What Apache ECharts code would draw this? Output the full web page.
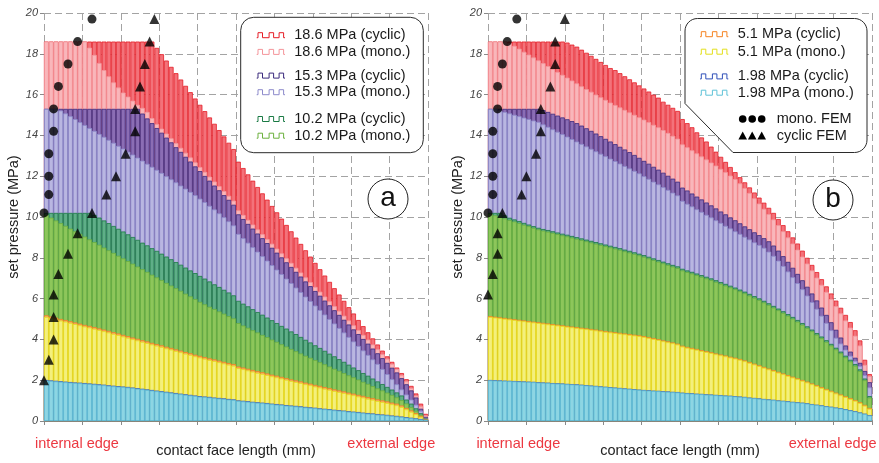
<!DOCTYPE html>
<html>
<head>
<meta charset="utf-8">
<script src="https://cdn.jsdelivr.net/npm/echarts@6/dist/echarts.min.js"></script>
<style>
html, body { margin: 0; padding: 0; background: #fff; }
#chart { width: 879px; height: 463px; }
</style>
</head>
<body>
<div id="chart"></div>
<script>
// bar positions along the contact face (mm), 80 slices of 0.125 mm
var BAR_POS = [];
for (var k = 0; k < 80; k++) BAR_POS.push(((k + 0.5) * 0.125).toFixed(4));

var Y_TICKS = [0, 2, 4, 6, 8, 10, 12, 14, 16, 18, 20];

// ---- panel a ----
var A_RED_CYC = [
  18.6, 18.6, 18.6, 18.6, 18.6, 18.6, 18.6, 18.6, 18.6, 18.6,
  18.6, 18.6, 18.6, 18.6, 18.6, 18.6, 18.6, 18.6, 18.6, 18.6,
  18.6, 18.6, 18.6, 18.29, 17.98, 17.67, 17.36, 17.05, 16.74, 16.43,
  16.12, 15.81, 15.5, 15.19, 14.88, 14.57, 14.26, 13.95, 13.64, 13.33,
  12.71, 12.4, 12.09, 11.78, 11.47, 11.16, 10.85, 10.54, 10.23, 9.92,
  9.61, 9.3, 8.99, 8.68, 8.37, 8.06, 7.75, 7.44, 7.13, 6.82,
  6.51, 6.2, 5.89, 5.58, 5.27, 4.95, 4.65, 4.35, 4.05, 3.75,
  3.45, 3.17, 2.9, 2.62, 2.35, 2.05, 1.72, 1.35, 0.85, 0.35];
var A_PINK_MONO = [
  18.6, 18.6, 18.6, 18.6, 18.6, 18.6, 18.6, 18.6, 18.6, 18.3,
  17.95, 17.55, 17.2, 16.9, 16.6, 16.35, 16.1, 15.9, 15.7, 15.5,
  15.35, 15.15, 14.85, 14.56, 14.33, 14.09, 13.86, 13.62, 13.39, 13.15,
  12.92, 12.68, 12.45, 12.21, 11.98, 11.74, 11.51, 11.27, 11.04, 10.8,
  10.33, 10.1, 9.86, 9.63, 9.39, 9.16, 8.92, 8.69, 8.45, 8.22,
  7.98, 7.75, 7.51, 7.28, 7.04, 6.81, 6.57, 6.34, 6.1, 5.87,
  5.63, 5.4, 5.16, 4.93, 4.69, 4.46, 4.22, 3.99, 3.75, 3.52,
  3.28, 3.05, 2.8, 2.55, 2.25, 1.95, 1.62, 1.25, 0.72, 0.28];
var A_PURPLE_CYC = [
  15.3, 15.3, 15.3, 15.3, 15.3, 15.3, 15.3, 15.3, 15.3, 15.3,
  15.3, 15.3, 15.3, 15.3, 15.3, 15.3, 15.3, 15.3, 15.3, 15.3,
  15.07, 14.83, 14.6, 14.36, 14.13, 13.89, 13.66, 13.42, 13.19, 12.95,
  12.72, 12.48, 12.25, 12.01, 11.78, 11.54, 11.31, 11.07, 10.84, 10.6,
  10.13, 9.9, 9.66, 9.43, 9.19, 8.96, 8.72, 8.49, 8.25, 8.02,
  7.78, 7.55, 7.31, 7.08, 6.84, 6.61, 6.37, 6.14, 5.9, 5.67,
  5.43, 5.2, 4.96, 4.73, 4.49, 4.26, 4.02, 3.79, 3.55, 3.32,
  3.08, 2.85, 2.61, 2.38, 2.1, 1.8, 1.5, 1.15, 0.6, 0.2];
var A_LPURPLE_MONO = [
  15.3, 15.3, 15.3, 15.22, 15.08, 14.94, 14.8, 14.65, 14.51, 14.36,
  14.22, 14.07, 13.93, 13.78, 13.64, 13.49, 13.35, 13.2, 13.06, 12.91,
  12.76, 12.61, 12.46, 12.31, 12.16, 12.0, 11.85, 11.7, 11.54, 11.39,
  11.23, 11.07, 10.9, 10.73, 10.55, 10.37, 10.18, 9.99, 9.79, 9.59,
  9.17, 8.96, 8.74, 8.52, 8.3, 8.08, 7.86, 7.64, 7.42, 7.2,
  6.98, 6.76, 6.54, 6.32, 6.1, 5.88, 5.66, 5.44, 5.22, 5.0,
  4.78, 4.56, 4.34, 4.12, 3.9, 3.68, 3.46, 3.24, 3.02, 2.8,
  2.55, 2.3, 2.05, 1.8, 1.55, 1.3, 1.05, 0.8, 0.5, 0.15];
var A_DGREEN_CYC = [
  10.2, 10.2, 10.2, 10.2, 10.2, 10.2, 10.2, 10.2, 10.2, 10.2,
  10.1, 9.97, 9.83, 9.7, 9.56, 9.42, 9.29, 9.15, 9.02, 8.88,
  8.74, 8.61, 8.47, 8.34, 8.2, 8.06, 7.93, 7.79, 7.66, 7.52,
  7.38, 7.25, 7.11, 6.98, 6.84, 6.7, 6.57, 6.43, 6.3, 6.16,
  5.89, 5.75, 5.62, 5.48, 5.34, 5.21, 5.07, 4.94, 4.8, 4.66,
  4.53, 4.39, 4.26, 4.12, 3.98, 3.85, 3.71, 3.58, 3.44, 3.3,
  3.17, 3.03, 2.9, 2.76, 2.62, 2.49, 2.35, 2.22, 2.08, 1.94,
  1.81, 1.67, 1.54, 1.4, 1.25, 1.05, 0.85, 0.62, 0.38, 0.12];
var A_LGREEN_MONO = [
  10.1, 9.97, 9.83, 9.7, 9.57, 9.43, 9.3, 9.17, 9.04, 8.9,
  8.77, 8.64, 8.5, 8.37, 8.24, 8.1, 7.97, 7.84, 7.71, 7.57,
  7.44, 7.31, 7.17, 7.04, 6.91, 6.77, 6.64, 6.51, 6.38, 6.24,
  6.11, 5.98, 5.84, 5.72, 5.6, 5.49, 5.37, 5.26, 5.14, 5.03,
  4.8, 4.68, 4.57, 4.45, 4.34, 4.22, 4.11, 3.99, 3.88, 3.76,
  3.65, 3.53, 3.42, 3.31, 3.2, 3.1, 2.99, 2.88, 2.78, 2.67,
  2.56, 2.46, 2.35, 2.24, 2.14, 2.03, 1.92, 1.82, 1.71, 1.6,
  1.5, 1.39, 1.28, 1.16, 1.02, 0.86, 0.68, 0.5, 0.3, 0.1];
var A_ORANGE_CYC = [
  5.18, 5.12, 5.06, 5.0, 4.95, 4.89, 4.83, 4.77, 4.71, 4.66,
  4.6, 4.54, 4.48, 4.42, 4.35, 4.29, 4.22, 4.16, 4.09, 4.03,
  3.96, 3.9, 3.83, 3.77, 3.71, 3.64, 3.58, 3.51, 3.45, 3.38,
  3.32, 3.25, 3.19, 3.13, 3.07, 3.02, 2.96, 2.9, 2.84, 2.79,
  2.67, 2.62, 2.56, 2.5, 2.44, 2.39, 2.33, 2.27, 2.22, 2.16,
  2.1, 2.04, 1.99, 1.94, 1.88, 1.83, 1.77, 1.72, 1.66, 1.61,
  1.55, 1.5, 1.45, 1.39, 1.34, 1.28, 1.23, 1.17, 1.12, 1.06,
  1.01, 0.96, 0.9, 0.85, 0.76, 0.64, 0.52, 0.39, 0.25, 0.1];
var A_YELLOW_MONO = [
  5.1, 5.04, 4.98, 4.92, 4.87, 4.81, 4.75, 4.69, 4.63, 4.58,
  4.52, 4.46, 4.4, 4.34, 4.27, 4.21, 4.14, 4.08, 4.01, 3.95,
  3.88, 3.82, 3.75, 3.69, 3.63, 3.56, 3.5, 3.43, 3.37, 3.3,
  3.24, 3.17, 3.11, 3.05, 2.99, 2.94, 2.88, 2.82, 2.76, 2.71,
  2.59, 2.54, 2.48, 2.42, 2.36, 2.31, 2.25, 2.19, 2.14, 2.08,
  2.02, 1.96, 1.91, 1.86, 1.8, 1.75, 1.69, 1.64, 1.58, 1.53,
  1.47, 1.42, 1.37, 1.31, 1.26, 1.2, 1.15, 1.09, 1.04, 0.98,
  0.93, 0.88, 0.82, 0.77, 0.68, 0.57, 0.45, 0.33, 0.2, 0.08];
var A_BLUE_CYC = [
  2.01, 1.99, 1.97, 1.95, 1.93, 1.91, 1.89, 1.88, 1.86, 1.84,
  1.82, 1.8, 1.78, 1.75, 1.73, 1.71, 1.69, 1.67, 1.64, 1.61,
  1.58, 1.55, 1.52, 1.49, 1.46, 1.43, 1.4, 1.37, 1.34, 1.31,
  1.28, 1.25, 1.22, 1.2, 1.18, 1.15, 1.13, 1.11, 1.08, 1.06,
  1.01, 0.99, 0.97, 0.94, 0.92, 0.9, 0.88, 0.85, 0.83, 0.81,
  0.78, 0.76, 0.74, 0.72, 0.69, 0.67, 0.65, 0.62, 0.6, 0.58,
  0.55, 0.53, 0.51, 0.48, 0.46, 0.44, 0.41, 0.39, 0.37, 0.34,
  0.32, 0.3, 0.27, 0.25, 0.22, 0.19, 0.16, 0.13, 0.1, 0.07];
var A_CYAN_MONO = [
  1.98, 1.96, 1.94, 1.92, 1.9, 1.88, 1.86, 1.85, 1.83, 1.81,
  1.79, 1.77, 1.75, 1.72, 1.7, 1.68, 1.66, 1.64, 1.61, 1.58,
  1.55, 1.52, 1.49, 1.46, 1.43, 1.4, 1.37, 1.34, 1.31, 1.28,
  1.25, 1.22, 1.19, 1.17, 1.15, 1.12, 1.1, 1.08, 1.05, 1.03,
  0.98, 0.96, 0.94, 0.91, 0.89, 0.87, 0.85, 0.82, 0.8, 0.78,
  0.75, 0.73, 0.71, 0.69, 0.66, 0.64, 0.62, 0.59, 0.57, 0.55,
  0.52, 0.5, 0.48, 0.45, 0.43, 0.41, 0.38, 0.36, 0.34, 0.31,
  0.29, 0.27, 0.24, 0.22, 0.19, 0.16, 0.13, 0.1, 0.07, 0.04];

// FEM points [mm, MPa]
var A_MONO_FEM = [[0, 10.2], [0.125, 11.1], [0.125, 12.0], [0.125, 13.1], [0.25, 14.2],
  [0.25, 15.3], [0.375, 16.4], [0.625, 17.5], [0.875, 18.6], [1.25, 19.7]];
var A_CYC_FEM = [[0, 2.0], [0.125, 3.0], [0.25, 4.0], [0.25, 5.1], [0.25, 6.2], [0.375, 7.2],
  [0.625, 8.2], [0.875, 9.2], [1.25, 10.2], [1.625, 11.1], [1.875, 12.0], [2.125, 13.1],
  [2.375, 14.2], [2.375, 15.3], [2.5, 16.4], [2.625, 17.5], [2.75, 18.6], [2.875, 19.7]];

// ---- panel b ----
var B_RED_CYC = [
  18.6, 18.6, 18.6, 18.6, 18.6, 18.6, 18.6, 18.6, 18.6, 18.6,
  18.6, 18.6, 18.6, 18.6, 18.6, 18.6, 18.55, 18.45, 18.35, 18.2,
  18.05, 17.9, 17.75, 17.6, 17.45, 17.3, 17.2, 17.05, 16.9, 16.75,
  16.6, 16.45, 16.3, 16.15, 16.0, 15.85, 15.65, 15.5, 15.35, 15.2,
  14.8, 14.6, 14.4, 14.15, 13.9, 13.7, 13.45, 13.2, 12.95, 12.7,
  12.45, 12.2, 11.95, 11.7, 11.45, 11.2, 10.95, 10.7, 10.45, 10.2,
  9.9, 9.6, 9.3, 9.0, 8.7, 8.35, 8.0, 7.65, 7.3, 6.95,
  6.6, 6.25, 5.9, 5.55, 5.2, 4.85, 4.45, 3.95, 3.0, 2.3];
var B_PINK_MONO = [
  18.6, 18.6, 18.6, 18.6, 18.53, 18.39, 18.25, 18.1, 17.96, 17.82,
  17.68, 17.54, 17.4, 17.25, 17.11, 16.97, 16.83, 16.69, 16.55, 16.41,
  16.27, 16.14, 16.0, 15.87, 15.74, 15.61, 15.49, 15.37, 15.25, 15.13,
  15.01, 14.89, 14.77, 14.65, 14.52, 14.4, 14.26, 14.12, 13.98, 13.84,
  13.56, 13.42, 13.27, 13.12, 12.97, 12.82, 12.67, 12.52, 12.36, 12.2,
  12.03, 11.86, 11.65, 11.42, 11.18, 10.92, 10.66, 10.4, 10.14, 9.88,
  9.6, 9.3, 9.0, 8.7, 8.4, 8.06, 7.72, 7.38, 7.03, 6.68,
  6.33, 5.98, 5.63, 5.28, 4.93, 4.58, 4.18, 3.7, 2.75, 2.2];
var B_PURPLE_CYC = [
  15.3, 15.3, 15.3, 15.3, 15.3, 15.3, 15.3, 15.3, 15.3, 15.3,
  15.3, 15.24, 15.15, 15.06, 14.97, 14.88, 14.79, 14.7, 14.6, 14.48,
  14.35, 14.22, 14.09, 13.96, 13.83, 13.7, 13.57, 13.44, 13.31, 13.18,
  13.04, 12.9, 12.75, 12.61, 12.46, 12.32, 12.17, 12.02, 11.88, 11.73,
  11.44, 11.3, 11.15, 11.0, 10.86, 10.71, 10.57, 10.42, 10.27, 10.13,
  9.98, 9.84, 9.69, 9.54, 9.4, 9.25, 9.11, 8.96, 8.81, 8.6,
  8.35, 8.08, 7.8, 7.51, 7.21, 6.9, 6.58, 6.25, 5.91, 5.56,
  5.2, 4.84, 4.47, 4.09, 3.7, 3.4, 3.1, 2.85, 2.45, 1.9];
var B_LPURPLE_MONO = [
  15.3, 15.3, 15.22, 15.15, 15.08, 15.01, 14.94, 14.87, 14.8, 14.73,
  14.66, 14.54, 14.42, 14.3, 14.18, 14.06, 13.94, 13.82, 13.7, 13.58,
  13.46, 13.34, 13.22, 13.1, 12.98, 12.86, 12.74, 12.62, 12.5, 12.38,
  12.26, 12.14, 12.0, 11.87, 11.73, 11.6, 11.46, 11.33, 11.19, 11.06,
  10.79, 10.65, 10.52, 10.38, 10.25, 10.11, 9.98, 9.84, 9.71, 9.57,
  9.44, 9.3, 9.17, 9.03, 8.9, 8.76, 8.63, 8.49, 8.3, 8.1,
  7.86, 7.6, 7.33, 7.05, 6.76, 6.46, 6.15, 5.83, 5.5, 5.16,
  4.81, 4.45, 4.08, 3.8, 3.5, 3.2, 2.95, 2.7, 2.25, 1.65];
var B_DGREEN_CYC = [
  10.2, 10.2, 10.2, 10.08, 9.96, 9.88, 9.8, 9.71, 9.63, 9.55,
  9.47, 9.41, 9.36, 9.3, 9.24, 9.18, 9.13, 9.07, 9.01, 8.95,
  8.89, 8.83, 8.77, 8.71, 8.65, 8.59, 8.53, 8.47, 8.4, 8.34,
  8.27, 8.2, 8.13, 8.05, 7.97, 7.89, 7.81, 7.73, 7.65, 7.58,
  7.46, 7.38, 7.31, 7.23, 7.15, 7.07, 6.99, 6.9, 6.81, 6.72,
  6.63, 6.54, 6.44, 6.34, 6.23, 6.12, 6.01, 5.89, 5.77, 5.64,
  5.51, 5.38, 5.24, 5.1, 4.95, 4.8, 4.64, 4.48, 4.31, 4.14,
  3.96, 3.78, 3.59, 3.4, 3.2, 3.0, 2.79, 2.53, 2.08, 1.22];
var B_LGREEN_MONO = [
  10.15, 10.08, 10.0, 9.93, 9.85, 9.78, 9.7, 9.62, 9.55, 9.47,
  9.39, 9.33, 9.28, 9.22, 9.16, 9.1, 9.05, 8.99, 8.93, 8.87,
  8.81, 8.75, 8.69, 8.63, 8.57, 8.51, 8.45, 8.39, 8.32, 8.26,
  8.19, 8.12, 8.05, 7.97, 7.89, 7.81, 7.73, 7.65, 7.57, 7.5,
  7.38, 7.3, 7.23, 7.15, 7.07, 6.99, 6.91, 6.82, 6.73, 6.64,
  6.55, 6.46, 6.36, 6.26, 6.15, 6.04, 5.93, 5.81, 5.69, 5.56,
  5.43, 5.3, 5.16, 5.02, 4.87, 4.72, 4.56, 4.4, 4.23, 4.06,
  3.88, 3.7, 3.51, 3.32, 3.12, 2.92, 2.71, 2.45, 2.0, 1.15];
var B_ORANGE_CYC = [
  5.14, 5.11, 5.08, 5.05, 5.02, 4.99, 4.96, 4.93, 4.9, 4.87,
  4.84, 4.81, 4.78, 4.75, 4.72, 4.69, 4.66, 4.63, 4.6, 4.57,
  4.54, 4.51, 4.48, 4.44, 4.41, 4.38, 4.35, 4.32, 4.29, 4.26,
  4.23, 4.2, 4.16, 4.11, 4.06, 4.01, 3.95, 3.9, 3.85, 3.79,
  3.69, 3.63, 3.58, 3.53, 3.47, 3.42, 3.37, 3.31, 3.26, 3.21,
  3.15, 3.1, 3.04, 2.97, 2.89, 2.81, 2.73, 2.65, 2.57, 2.49,
  2.41, 2.33, 2.25, 2.17, 2.09, 2.01, 1.93, 1.84, 1.75, 1.66,
  1.57, 1.48, 1.39, 1.3, 1.21, 1.12, 1.03, 0.92, 0.79, 0.64];
var B_YELLOW_MONO = [
  5.1, 5.07, 5.04, 5.01, 4.98, 4.95, 4.92, 4.89, 4.86, 4.83,
  4.8, 4.77, 4.74, 4.71, 4.68, 4.65, 4.62, 4.59, 4.56, 4.53,
  4.5, 4.47, 4.44, 4.4, 4.37, 4.34, 4.31, 4.28, 4.25, 4.22,
  4.19, 4.16, 4.12, 4.07, 4.02, 3.97, 3.91, 3.86, 3.81, 3.75,
  3.65, 3.59, 3.54, 3.49, 3.43, 3.38, 3.33, 3.27, 3.22, 3.17,
  3.11, 3.06, 3.0, 2.93, 2.85, 2.77, 2.69, 2.61, 2.53, 2.45,
  2.37, 2.29, 2.21, 2.13, 2.05, 1.97, 1.89, 1.8, 1.71, 1.62,
  1.53, 1.44, 1.35, 1.26, 1.17, 1.08, 0.99, 0.88, 0.75, 0.6];
var B_BLUE_CYC = [
  2.01, 2.0, 1.99, 1.98, 1.97, 1.96, 1.95, 1.94, 1.93, 1.92,
  1.9, 1.89, 1.88, 1.86, 1.85, 1.84, 1.82, 1.81, 1.8, 1.78,
  1.76, 1.74, 1.72, 1.7, 1.68, 1.66, 1.64, 1.62, 1.6, 1.58,
  1.56, 1.54, 1.52, 1.51, 1.49, 1.48, 1.46, 1.45, 1.43, 1.42,
  1.39, 1.37, 1.36, 1.34, 1.33, 1.31, 1.3, 1.28, 1.27, 1.25,
  1.24, 1.22, 1.2, 1.18, 1.15, 1.13, 1.11, 1.08, 1.06, 1.04,
  1.01, 0.99, 0.97, 0.94, 0.92, 0.9, 0.87, 0.83, 0.8, 0.77,
  0.73, 0.7, 0.66, 0.63, 0.58, 0.53, 0.48, 0.42, 0.36, 0.29];
var B_CYAN_MONO = [
  1.99, 1.98, 1.97, 1.96, 1.95, 1.94, 1.93, 1.92, 1.91, 1.9,
  1.88, 1.87, 1.86, 1.84, 1.83, 1.82, 1.8, 1.79, 1.78, 1.76,
  1.74, 1.72, 1.7, 1.68, 1.66, 1.64, 1.62, 1.6, 1.58, 1.56,
  1.54, 1.52, 1.5, 1.49, 1.47, 1.46, 1.44, 1.43, 1.41, 1.4,
  1.37, 1.35, 1.34, 1.32, 1.31, 1.29, 1.28, 1.26, 1.25, 1.23,
  1.22, 1.2, 1.18, 1.16, 1.13, 1.11, 1.09, 1.06, 1.04, 1.02,
  0.99, 0.97, 0.95, 0.92, 0.9, 0.88, 0.85, 0.81, 0.78, 0.75,
  0.71, 0.68, 0.64, 0.61, 0.56, 0.51, 0.46, 0.4, 0.34, 0.27];

var B_MONO_FEM = [[0, 10.2], [0.125, 11.1], [0.125, 12.0], [0.125, 13.1], [0.125, 14.2],
  [0.25, 15.3], [0.25, 16.4], [0.375, 17.5], [0.5, 18.6], [0.75, 19.7]];
var B_CYC_FEM = [[0, 6.2], [0.125, 7.2], [0.25, 8.2], [0.25, 9.2], [0.375, 10.2], [0.875, 11.1],
  [1.0, 12.0], [1.25, 13.1], [1.375, 14.2], [1.375, 15.3], [1.625, 16.4], [1.75, 17.5],
  [1.75, 18.6], [2.0, 19.7]];

var FONT = '"Liberation Sans", Arial, Helvetica, sans-serif';
var GRID_C = '#a3a3a3';
var AXIS_C = '#8a8a8a';
var EDGE_RED = '#ec3841';

// draw order: back to front
var LAYERS = [
  { name: '18.6 MPa (cyclic)', a: A_RED_CYC, b: B_RED_CYC, fill: '#f3727a', line: '#e51d26' },
  { name: '18.6 MPa (mono.)', a: A_PINK_MONO, b: B_PINK_MONO, fill: '#f9b6ba', line: '#f4959b' },
  { name: '15.3 MPa (cyclic)', a: A_PURPLE_CYC, b: B_PURPLE_CYC, fill: '#8b6db4', line: '#3b2a7d' },
  { name: '15.3 MPa (mono.)', a: A_LPURPLE_MONO, b: B_LPURPLE_MONO, fill: '#b9b6e1', line: '#8d8acb' },
  { name: '10.2 MPa (cyclic)', a: A_DGREEN_CYC, b: B_DGREEN_CYC, fill: '#5fae88', line: '#1a7a44' },
  { name: '10.2 MPa (mono.)', a: A_LGREEN_MONO, b: B_LGREEN_MONO, fill: '#8dc65b', line: '#6cb03d' },
  { name: '5.1 MPa (cyclic)', a: A_ORANGE_CYC, b: B_ORANGE_CYC, fill: '#f8ad6c', line: '#f6821f' },
  { name: '5.1 MPa (mono.)', a: A_YELLOW_MONO, b: B_YELLOW_MONO, fill: '#f4ef7c', line: '#e3df1c' },
  { name: '1.98 MPa (cyclic)', a: A_BLUE_CYC, b: B_BLUE_CYC, fill: '#86a6e2', line: '#2f4fb8' },
  { name: '1.98 MPa (mono.)', a: A_CYAN_MONO, b: B_CYAN_MONO, fill: '#8dd5e3', line: '#5fc2d7' }
];

function barSeries(layer, data, xi, yi) {
  return {
    type: 'bar', name: layer.name, data: data,
    xAxisIndex: xi, yAxisIndex: yi,
    barWidth: '100%', barGap: '-100%', barCategoryGap: 0,
    itemStyle: { color: layer.fill, borderColor: layer.line, borderWidth: 0.8 },
    silent: true
  };
}

function femSeries(data, symbol, size, xi, yi) {
  return {
    type: 'scatter', data: data, xAxisIndex: xi, yAxisIndex: yi,
    symbol: symbol, symbolSize: size, clip: false, z: 5, silent: true,
    itemStyle: { color: '#000' }
  };
}

function xAxes(gi) {
  return [
    { type: 'category', gridIndex: gi, data: BAR_POS, show: false, boundaryGap: true },
    {
      type: 'value', gridIndex: gi, min: 0, max: 10, interval: 1, position: 'bottom',
      axisLine: { show: true, lineStyle: { color: AXIS_C, width: 1 } },
      axisTick: { show: true, length: 4, lineStyle: { color: AXIS_C } },
      axisLabel: { show: false },
      splitLine: { show: true, lineStyle: { color: GRID_C, width: 1, type: [7, 4] } },
      name: 'contact face length (mm)', nameLocation: 'middle', nameGap: 22,
      nameTextStyle: { fontFamily: FONT, fontSize: 14.5, color: '#222' }
    }
  ];
}

function yAxis(gi) {
  return {
    type: 'value', gridIndex: gi, min: 0, max: 20, interval: 2,
    axisLine: { show: false },
    axisTick: { show: true, length: 4, lineStyle: { color: AXIS_C } },
    axisLabel: { fontFamily: FONT, fontStyle: 'italic', fontSize: 11, color: '#444', margin: 6,
      formatter: function (v) { return Y_TICKS.indexOf(v) >= 0 ? String(v) : ''; } },
    splitLine: { show: true, lineStyle: { color: GRID_C, width: 1, type: [7, 4] } },
    name: 'set pressure (MPa)', nameLocation: 'middle', nameGap: 19, nameRotate: 90,
    nameTextStyle: { fontFamily: FONT, fontSize: 14.5, color: '#222' }
  };
}

// legend helpers (graphic elements)
function barIcon(x0, yc, color) {
  var b = yc + 2.5, t = yc - 2.5;
  return {
    type: 'polyline', z: 101,
    shape: { points: [[x0, b], [x0 + 1.3, b], [x0 + 1.3, t], [x0 + 5.8, t], [x0 + 5.8, b],
      [x0 + 12.4, b], [x0 + 12.4, t], [x0 + 16.9, t], [x0 + 16.9, b],
      [x0 + 22.4, b], [x0 + 22.4, t], [x0 + 26.9, t], [x0 + 26.9, b], [x0 + 28.3, b]] },
    style: { stroke: color, lineWidth: 1, fill: null }
  };
}
function label(x, y, text, color, size, align) {
  return {
    type: 'text', x: x, y: y, z: 101,
    style: { text: text, fill: color || '#1a1a1a', fontFamily: FONT, fontSize: size || 14.5,
      textAlign: align || 'left', textVerticalAlign: 'middle' }
  };
}
// quarter arc points for the cut-corner legend outline
function arc(cx, cy, r, a0, a1) {
  var pts = [];
  for (var s = 0; s <= 8; s++) {
    var a = (a0 + (a1 - a0) * s / 8) * Math.PI / 180;
    pts.push([cx + r * Math.cos(a), cy + r * Math.sin(a)]);
  }
  return pts;
}

var graphics = [];
// panel a legend
graphics.push({ type: 'rect', z: 100, shape: { x: 240.7, y: 17.3, width: 182.6, height: 135.4, r: 13 },
  style: { fill: '#fff', stroke: '#2b2b2b', lineWidth: 1 } });
var legA = [[0, 35.2], [1, 51.9], [2, 75.6], [3, 92.2], [4, 119.0], [5, 135.7]];
legA.forEach(function (r) {
  graphics.push(barIcon(256.7, r[1], LAYERS[r[0]].line));
  graphics.push(label(294.3, r[1], LAYERS[r[0]].name));
});
// panel b legend (box with a cut corner)
var boxB = [].concat(arc(697.5, 31, 12.5, 180, 270), arc(854.5, 31, 12.5, 270, 360),
  arc(854.5, 140, 12.5, 0, 90), [[733, 152.5], [685, 103.5]]);
graphics.push({ type: 'polygon', z: 100, shape: { points: boxB },
  style: { fill: '#fff', stroke: '#2b2b2b', lineWidth: 1 } });
var legB = [[6, 34.2], [7, 51.7], [8, 76.4], [9, 92.7]];
legB.forEach(function (r) {
  graphics.push(barIcon(700, r[1], LAYERS[r[0]].line));
  graphics.push(label(737.7, r[1], LAYERS[r[0]].name));
});
[742.7, 752.2, 761.7].forEach(function (cx) {
  graphics.push({ type: 'circle', z: 101, shape: { cx: cx, cy: 119, r: 3.8 }, style: { fill: '#000' } });
  graphics.push({ type: 'polygon', z: 101, shape: { points: [[cx, 131.5], [cx - 4.3, 139.5], [cx + 4.3, 139.5]] }, style: { fill: '#000' } });
});
graphics.push(label(776.7, 119, 'mono. FEM'));
graphics.push(label(776.7, 136, 'cyclic FEM'));
// circled panel letters
[[388, 199, 'a'], [833, 200, 'b']].forEach(function (c) {
  graphics.push({ type: 'circle', z: 100, shape: { cx: c[0], cy: c[1], r: 20 },
    style: { fill: '#fff', stroke: '#222', lineWidth: 1 } });
  graphics.push({ type: 'text', z: 101, x: c[0], y: c[1] - 1,
    style: { text: c[2], fill: '#111', fontFamily: FONT, fontSize: 28, textAlign: 'center', textVerticalAlign: 'middle' } });
});
// edge captions
graphics.push(label(77, 444, 'internal edge', EDGE_RED, 14.5, 'center'));
graphics.push(label(391.3, 444, 'external edge', EDGE_RED, 14.5, 'center'));
graphics.push(label(518.3, 444, 'internal edge', EDGE_RED, 14.5, 'center'));
graphics.push(label(832.7, 444, 'external edge', EDGE_RED, 14.5, 'center'));

var series = [];
LAYERS.forEach(function (l) { series.push(barSeries(l, l.a, 0, 0)); });
LAYERS.forEach(function (l) { series.push(barSeries(l, l.b, 2, 1)); });
series.push(femSeries(A_MONO_FEM, 'circle', 9, 1, 0));
series.push(femSeries(A_CYC_FEM, 'triangle', 10, 1, 0));
series.push(femSeries(B_MONO_FEM, 'circle', 9, 3, 1));
series.push(femSeries(B_CYC_FEM, 'triangle', 10, 3, 1));

var chart = echarts.init(document.getElementById('chart'), null, { renderer: 'canvas' });
chart.setOption({
  animation: false,
  backgroundColor: '#fff',
  textStyle: { fontFamily: FONT },
  grid: [
    { left: 44, top: 13, width: 384, height: 413 },
    { left: 488, top: 13, width: 384, height: 413 }
  ],
  xAxis: xAxes(0).concat(xAxes(1)),
  yAxis: [yAxis(0), yAxis(1)],
  series: series,
  graphic: graphics
});
</script>
</body>
</html>
